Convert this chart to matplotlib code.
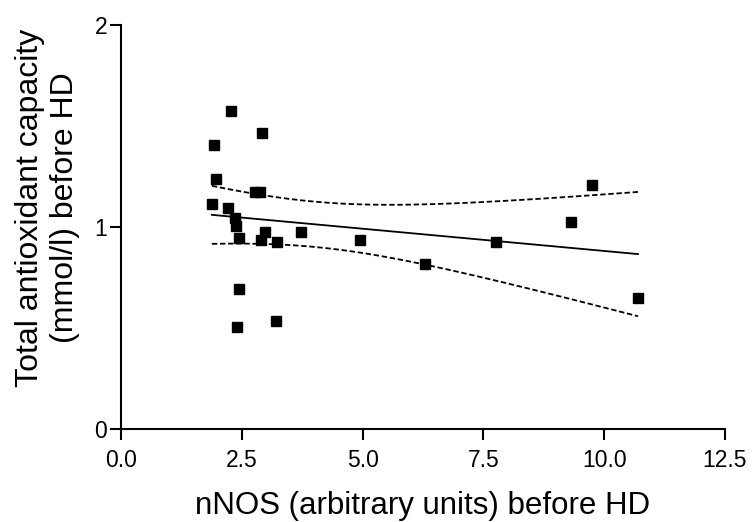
import numpy as np
import matplotlib
matplotlib.use("Agg")
import matplotlib.pyplot as plt
from matplotlib.ticker import FormatStrFormatter

plt.rcParams['font.family'] = ['Liberation Sans', 'DejaVu Sans']

# nNOS (arbitrary units) vs total antioxidant capacity (mmol/l), before HD
nnos = [2.28, 2.91, 1.92, 1.97, 2.77, 2.88, 1.88, 2.21, 2.35, 2.38, 2.44, 2.97,
        2.90, 3.23, 3.72, 2.45, 2.40, 3.20, 4.95, 6.29, 7.76, 9.31, 9.74, 10.70]
tac = [1.574, 1.464, 1.404, 1.236, 1.175, 1.175, 1.112, 1.093, 1.043, 1.003, 0.946, 0.974,
       0.934, 0.924, 0.974, 0.693, 0.505, 0.535, 0.934, 0.815, 0.924, 1.023, 1.206, 0.645]

x_ticks = [0.0, 2.5, 5.0, 7.5, 10.0, 12.5]
y_ticks = [0, 1, 2]

x = np.array(nnos)
y = np.array(tac)
n = len(x)

# least-squares line with 95% confidence band of the mean
slope, intercept = np.polyfit(x, y, 1)
resid = y - (slope * x + intercept)
s = np.sqrt(np.sum(resid ** 2) / (n - 2))
t_crit = 2.074  # two-sided 95%, df = 22
xx = np.linspace(x.min(), x.max(), 200)
yy = slope * xx + intercept
se = s * np.sqrt(1.0 / n + (xx - x.mean()) ** 2 / np.sum((x - x.mean()) ** 2))

fig = plt.figure(figsize=(7.54, 5.22), dpi=100)
ax = fig.add_axes([0.1605, 0.179, 0.801, 0.773])

ax.plot(xx, yy, color='black', lw=1.3)
ax.plot(xx, yy + t_crit * se, color='black', lw=1.3, ls=(0, (3, 1.5)))
ax.plot(xx, yy - t_crit * se, color='black', lw=1.3, ls=(0, (3, 1.5)))
ax.plot(x, y, 's', color='black', markersize=7, zorder=3)

ax.set_xlim(0, 12.5)
ax.set_ylim(0, 2)
ax.set_xticks(x_ticks)
ax.set_yticks(y_ticks)
ax.xaxis.set_major_formatter(FormatStrFormatter('%.1f'))

for side in ('top', 'right'):
    ax.spines[side].set_visible(False)
for side in ('left', 'bottom'):
    ax.spines[side].set_linewidth(1.5)
ax.tick_params(width=1.5, length=8, labelsize=16.5, colors='black')
ax.tick_params(axis='x', pad=6.5)
ax.tick_params(axis='y', pad=2)

xl = ax.set_xlabel('nNOS (arbitrary units) before HD', fontsize=22.5)
xl.set_va('baseline')
ax.xaxis.set_label_coords(0.5, -0.211)

yl = ax.set_ylabel('Total antioxidant capacity\n(mmol/l) before HD', fontsize=23)
yl.set_va('center')
ax.yaxis.set_label_coords(-0.122, 0.548)

fig.savefig('out.png', dpi=100)
